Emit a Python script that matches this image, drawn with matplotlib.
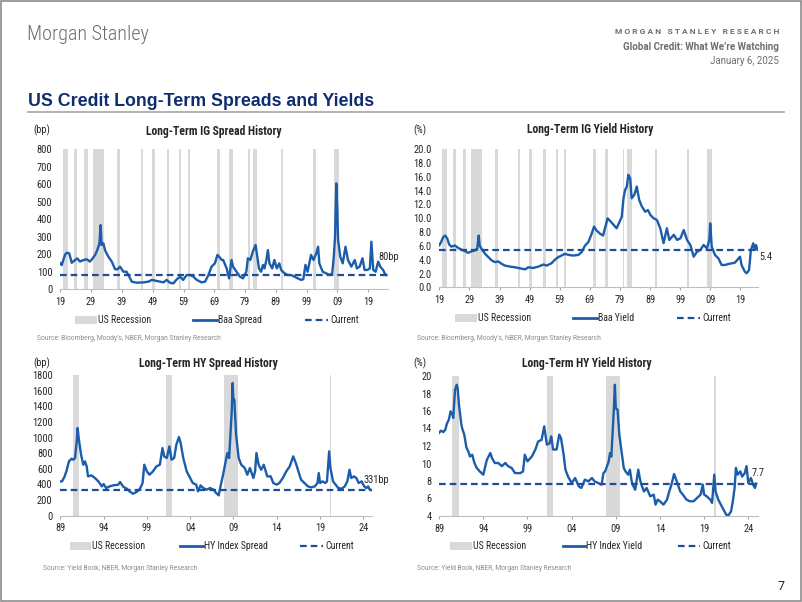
import matplotlib
matplotlib.use('Agg')
import matplotlib.pyplot as plt
from matplotlib.lines import Line2D
from matplotlib.patches import Rectangle

# ---------------- data ----------------
ig_spread_years = [1919.0, 1919.45, 1920.5, 1921.1, 1921.9, 1922.7, 1923.8, 1924.5, 1925.4, 1926.5,
                   1927.6, 1928.6, 1929.5, 1930.3, 1931.0, 1931.7, 1932.1, 1932.4, 1933.0, 1933.5,
                   1934.6, 1935.7, 1936.8, 1937.6, 1938.4, 1939.5, 1940.5, 1941.1, 1942.2, 1943.8,
                   1946.0, 1947.6, 1948.7, 1950.3, 1952.5, 1953.5, 1954.6, 1955.7, 1956.8, 1957.9,
                   1958.9, 1960.0, 1961.1, 1962.2, 1963.3, 1964.9, 1966.0, 1967.1, 1968.1, 1969.2,
                   1970.0, 1970.6, 1971.4, 1971.9, 1973.0, 1973.8, 1974.6, 1975.1, 1976.2, 1977.3,
                   1978.3, 1979.4, 1979.9, 1980.7, 1981.5, 1982.4, 1982.8, 1983.5, 1984.2, 1984.8,
                   1985.3, 1985.9, 1986.4, 1986.9, 1987.8, 1988.5, 1989.3, 1990.1, 1990.7, 1991.8,
                   1992.8, 1993.9, 1995.0, 1996.1, 1997.2, 1997.9, 1998.6, 1999.3, 2000.4, 2001.2,
                   2002.1, 2002.7, 2003.1, 2004.2, 2005.3, 2006.4, 2007.3, 2007.8, 2008.2, 2008.6,
                   2008.9, 2009.2, 2009.9, 2010.7, 2011.6, 2012.4, 2013.5, 2014.6, 2015.3, 2016.2,
                   2017.1, 2017.8, 2018.7, 2019.5, 2020.0, 2020.6, 2021.4, 2022.2, 2022.9, 2023.8,
                   2024.6, 2024.9]
ig_spread_bp = [147, 137, 195, 208, 204, 150, 166, 175, 157, 166,
                170, 157, 175, 195, 223, 261, 366, 252, 261, 223,
                185, 157, 113, 113, 128, 99, 99, 80, 42, 36,
                38, 42, 52, 46, 38, 52, 36, 32, 55, 71,
                52, 80, 80, 71, 52, 38, 42, 80, 128, 147,
                195, 185, 166, 166, 118, 61, 166, 128, 99, 71,
                61, 99, 176, 166, 214, 252, 204, 118, 99, 138,
                118, 166, 223, 147, 118, 166, 118, 147, 109, 90,
                80, 80, 71, 61, 52, 56, 138, 99, 195, 166,
                204, 242, 147, 99, 90, 80, 90, 185, 300, 605,
                472, 280, 185, 147, 242, 166, 128, 166, 118, 128,
                176, 109, 109, 118, 271, 109, 99, 157, 128, 109,
                80, 80]

ig_yield_years = [1919.0, 1919.6, 1920.3, 1921.0, 1921.7, 1922.3, 1923.0, 1924.2, 1925.3, 1926.4,
                  1927.5, 1928.6, 1929.7, 1930.8, 1931.6, 1932.1, 1932.4, 1933.0, 1934.2, 1935.3,
                  1936.4, 1937.5, 1938.6, 1939.7, 1940.8, 1942.5, 1944.1, 1945.8, 1947.5, 1948.6,
                  1950.2, 1951.9, 1953.6, 1954.7, 1956.3, 1957.4, 1958.5, 1959.6, 1960.7, 1961.9,
                  1963.5, 1965.2, 1966.3, 1967.4, 1968.5, 1969.6, 1970.4, 1971.2, 1972.3, 1973.4,
                  1974.9, 1976.2, 1977.9, 1979.6, 1980.2, 1980.7, 1981.3, 1981.8, 1982.4, 1982.9,
                  1983.8, 1984.6, 1985.4, 1986.3, 1987.4, 1988.3, 1989.1, 1990.2, 1991.3, 1992.4,
                  1993.5, 1994.6, 1995.4, 1996.9, 1998.0, 1999.1, 2000.2, 2001.3, 2002.4, 2003.5,
                  2004.6, 2005.7, 2006.8, 2007.9, 2008.7, 2009.0, 2009.5, 2010.6, 2011.7, 2012.8,
                  2013.9, 2015.0, 2016.1, 2017.2, 2018.9, 2019.4, 2020.5, 2021.1, 2021.9, 2022.5,
                  2023.3, 2023.8, 2024.2, 2024.7, 2024.95]
ig_yield_pct = [6.1, 6.55, 7.3, 7.5, 7.0, 6.2, 5.9, 6.05, 5.7, 5.45,
                5.25, 5.0, 5.2, 5.35, 5.6, 7.5, 6.05, 5.6, 4.85, 4.37,
                3.9, 3.65, 3.75, 3.4, 3.15, 3.0, 2.9, 2.75, 2.6, 2.9,
                2.8, 3.0, 3.3, 3.15, 3.5, 4.0, 4.37, 4.6, 4.85, 4.7,
                4.6, 4.7, 5.1, 6.05, 6.55, 7.75, 8.8, 8.25, 7.8, 7.5,
                10.0, 9.4, 8.55, 10.2, 12.9, 14.1, 14.6, 16.3, 15.8, 12.9,
                13.4, 14.6, 12.65, 11.7, 10.95, 11.2, 10.5, 10.0, 9.75, 8.55,
                6.4, 8.55, 6.86, 7.6, 6.86, 7.1, 8.3, 6.86, 6.13, 4.44,
                5.16, 5.4, 6.13, 5.65, 6.86, 9.27, 5.88, 4.68, 4.2, 3.23,
                3.23, 3.38, 3.47, 3.57, 4.44, 3.23, 2.26, 2.03, 2.51, 5.4,
                6.38, 5.4, 6.13, 5.4, 5.4]

hy_spread_years = [1989.0, 1989.2, 1989.5, 1989.7, 1989.8, 1990.0, 1990.3, 1990.5, 1990.7, 1990.9,
                   1991.0, 1991.15, 1991.4, 1991.65, 1991.85, 1992.05, 1992.2, 1992.6, 1993.0, 1993.4,
                   1993.8, 1994.0, 1994.3, 1994.7, 1995.1, 1995.7, 1995.9, 1996.3, 1996.7, 1997.0,
                   1997.4, 1997.8, 1998.2, 1998.5, 1998.7, 1999.0, 1999.3, 1999.7, 2000.1, 2000.5,
                   2000.8, 2001.0, 2001.3, 2001.6, 2001.85, 2002.15, 2002.4, 2002.7, 2002.9, 2003.2,
                   2003.6, 2004.0, 2004.3, 2004.7, 2004.9, 2005.2, 2005.5, 2005.9, 2006.3, 2006.7,
                   2007.0, 2007.3, 2007.5, 2007.8, 2008.1, 2008.3, 2008.5, 2008.65, 2008.8, 2008.9,
                   2009.0, 2009.1, 2009.3, 2009.6, 2009.9, 2010.3, 2010.6, 2010.9, 2011.3, 2011.5,
                   2011.65, 2011.9, 2012.2, 2012.5, 2012.9, 2013.3, 2013.6, 2014.0, 2014.3, 2014.7,
                   2015.1, 2015.5, 2015.9, 2016.2, 2016.5, 2016.8, 2017.2, 2017.6, 2018.0, 2018.4,
                   2018.7, 2018.85, 2019.0, 2019.3, 2019.6, 2019.8, 2020.05, 2020.2, 2020.5, 2020.8,
                   2021.1, 2021.5, 2021.85, 2022.15, 2022.4, 2022.6, 2022.9, 2023.2, 2023.45, 2023.8,
                   2024.1, 2024.35, 2024.55, 2024.7, 2024.85]
hy_spread_bp = [439, 439, 503, 567, 610, 695, 729, 716, 738, 951,
                1121, 972, 780, 652, 695, 631, 503, 516, 482, 439,
                375, 405, 354, 375, 388, 397, 431, 367, 345, 311,
                281, 303, 345, 418, 652, 567, 524, 567, 631, 652,
                866, 759, 738, 887, 716, 738, 908, 1006, 930, 738,
                567, 482, 418, 397, 311, 388, 354, 333, 354, 333,
                290, 260, 375, 524, 695, 802, 738, 1036, 1335, 1697,
                1463, 1484, 1036, 738, 652, 610, 524, 610, 482, 567,
                802, 652, 588, 652, 503, 503, 418, 397, 418, 482,
                567, 631, 759, 674, 567, 461, 418, 375, 362, 375,
                418, 546, 418, 439, 418, 439, 823, 610, 439, 397,
                354, 345, 375, 439, 588, 482, 503, 482, 418, 439,
                375, 354, 375, 340, 331]

hy_yield_years = [1989.0, 1989.2, 1989.5, 1989.7, 1989.9, 1990.1, 1990.3, 1990.5, 1990.6, 1990.8,
                  1991.0, 1991.1, 1991.25, 1991.5, 1991.6, 1991.85, 1992.1, 1992.3, 1992.5, 1992.75,
                  1993.0, 1993.25, 1993.6, 1994.0, 1994.4, 1994.8, 1995.0, 1995.3, 1995.7, 1996.1,
                  1996.5, 1996.8, 1997.2, 1997.6, 1998.2, 1998.5, 1998.7, 1999.0, 1999.5, 1999.9,
                  2000.2, 2000.6, 2000.9, 2001.2, 2001.5, 2001.7, 2001.9, 2002.3, 2002.6, 2002.8,
                  2003.1, 2003.3, 2003.6, 2004.0, 2004.4, 2004.8, 2005.1, 2005.5, 2005.9, 2006.3,
                  2006.6, 2007.0, 2007.4, 2007.6, 2007.8, 2008.2, 2008.35, 2008.5, 2008.75, 2008.9,
                  2009.0, 2009.2, 2009.4, 2009.7, 2009.9, 2010.1, 2010.4, 2010.6, 2010.8, 2011.0,
                  2011.2, 2011.4, 2011.55, 2011.75, 2011.9, 2012.2, 2012.5, 2012.9, 2013.3, 2013.5,
                  2013.75, 2014.0, 2014.4, 2014.8, 2015.0, 2015.3, 2015.6, 2015.9, 2016.3, 2016.6,
                  2017.0, 2017.4, 2017.8, 2018.2, 2018.6, 2018.85, 2019.0, 2019.3, 2019.7, 2019.9,
                  2020.15, 2020.3, 2020.6, 2020.9, 2021.2, 2021.5, 2021.75, 2022.05, 2022.25, 2022.45,
                  2022.6, 2022.8, 2023.1, 2023.3, 2023.6, 2023.8, 2024.0, 2024.3, 2024.55, 2024.75,
                  2024.9]
hy_yield_pct = [13.5, 13.75, 13.6, 13.87, 14.6, 15.0, 15.96, 15.6, 15.2, 18.4,
                19.0, 18.6, 16.7, 14.6, 14.05, 13.3, 11.8, 11.4, 10.8, 11.0,
                10.06, 9.5, 9.1, 8.72, 10.4, 11.2, 10.6, 10.06, 10.06, 9.7,
                10.06, 9.7, 9.5, 8.9, 8.9, 9.1, 11.0, 10.25, 10.8, 11.6,
                12.5, 12.7, 14.25, 12.15, 12.3, 13.1, 11.6, 11.6, 13.3, 12.9,
                11.0, 9.3, 8.5, 7.77, 8.34, 7.4, 7.2, 8.15, 7.96, 8.34,
                7.96, 7.77, 7.58, 8.9, 9.1, 10.25, 11.2, 10.8, 15.6, 19.0,
                16.3, 16.15, 13.3, 11.0, 9.5, 9.1, 8.72, 9.3, 7.96, 7.4,
                7.0, 8.34, 9.3, 8.15, 7.58, 6.8, 7.2, 6.25, 6.44, 5.3,
                5.87, 5.68, 5.3, 5.87, 6.63, 7.58, 8.8, 7.96, 6.8, 6.44,
                5.87, 5.68, 5.68, 6.06, 6.44, 7.58, 6.44, 6.25, 5.87, 5.5,
                8.72, 6.8, 5.87, 5.3, 4.72, 4.15, 4.08, 4.53, 5.68, 7.2,
                9.5, 8.72, 9.1, 8.5, 8.9, 9.7, 7.77, 8.34, 7.58, 7.2,
                7.7]

ig_spread_now = 80
ig_yield_now = 5.4
hy_spread_now = 331
hy_yield_now = 7.7

# NBER recessions (decimal years)
rec_start = [1920.0, 1923.4, 1926.8, 1929.6, 1937.4, 1945.1, 1948.9, 1953.5, 1957.6, 1960.3,
             1969.9, 1973.9, 1980.0, 1981.5, 1990.5, 2001.2, 2007.9, 2020.1]
rec_end = [1921.5, 1924.5, 1927.9, 1933.2, 1938.5, 1945.8, 1949.8, 1954.4, 1958.3, 1961.1,
           1970.9, 1975.2, 1980.5, 1982.9, 1991.2, 2001.9, 2009.5, 2020.3]

ig_xticks = [1919, 1929, 1939, 1949, 1959, 1969, 1979, 1989, 1999, 2009, 2019]
ig_xlabels = ['19', '29', '39', '49', '59', '69', '79', '89', '99', '09', '19']
hy_xticks = [1989, 1994, 1999, 2004, 2009, 2014, 2019, 2024]
hy_xlabels = ['89', '94', '99', '04', '09', '14', '19', '24']

# ---------------- styling ----------------
W, H = 802, 602
BLUE = '#1B5DAA'
NAVY = '#1F4E99'
BAND = '#D9D9D9'
TXT = '#262626'
GREY = '#8C8C8C'
COND = ['Roboto Condensed', 'DejaVu Sans']
PLAIN = ['Roboto', 'DejaVu Sans']
LEG_FS = 7.1

plt.rcParams['font.family'] = COND

fig = plt.figure(figsize=(W / 100, H / 100), dpi=100)


def fx(x):
    return x / W


def fy(y):
    return 1 - y / H


def txt(x, y, s, **kw):
    kw.setdefault('va', 'center')
    fig.text(fx(x), fy(y), s, **kw)


def panel(box, years, values, now, xlim, ylim, yticks, yfmt, xticks, xlabels):
    x0, y0, x1, y1 = box
    ax = fig.add_axes([fx(x0), fy(y1), (x1 - x0) / W, (y1 - y0) / H])
    ax.patch.set_alpha(0)
    for a, b in zip(rec_start, rec_end):
        if b > xlim[0] and a < xlim[1]:
            ax.axvspan(a, b, color=BAND, lw=0, zorder=0)
    ax.plot(years, values, color=BLUE, lw=1.7, zorder=3, solid_joinstyle='round')
    ax.axhline(now, color=NAVY, lw=1.6, dashes=(3, 1.8), zorder=4)
    ax.set_xlim(xlim)
    ax.set_ylim(ylim)
    ax.set_yticks(yticks)
    ax.set_yticklabels([yfmt.format(v) for v in yticks])
    ax.set_xticks(xticks)
    ax.set_xticklabels(xlabels)
    for s in ['top', 'right', 'left']:
        ax.spines[s].set_visible(False)
    ax.spines['bottom'].set_color('#BFBFBF')
    ax.spines['bottom'].set_linewidth(0.8)
    ax.tick_params(axis='y', length=0, pad=5.5, labelsize=7.5, labelcolor=TXT)
    ax.tick_params(axis='x', length=2.5, color='#A6A6A6', pad=3, labelsize=7.5, labelcolor=TXT)
    return ax


def legend(y, xs, label_line):
    (p0, p1), (l0, l1), (d0, d1) = xs
    fig.add_artist(Rectangle((fx(p0), fy(y + 4)), (p1 - p0) / W, 8 / H,
                             transform=fig.transFigure, color=BAND, lw=0))
    txt(p1 + 1.5, y, 'US Recession', fontsize=LEG_FS, color=TXT)
    fig.add_artist(Line2D([fx(l0), fx(l1)], [fy(y), fy(y)], transform=fig.transFigure,
                          color=BLUE, lw=2))
    txt(l1 + 1, y, label_line, fontsize=LEG_FS, color=TXT)
    fig.add_artist(Line2D([fx(d0), fx(d1)], [fy(y), fy(y)], transform=fig.transFigure,
                          color=NAVY, lw=1.6, dashes=(3, 1.8)))
    txt(d1 + 2, y, 'Current', fontsize=LEG_FS, color=TXT)


def source(x, y, s):
    txt(x, y, s, fontsize=4.9, color=GREY, family=PLAIN)


# ---------------- page furniture ----------------
fig.add_artist(Rectangle((0.001, 0.001), 0.998, 0.997, transform=fig.transFigure,
                         fill=False, ec='#8C8C8C', lw=1.2))
txt(27, 34, 'Morgan Stanley', fontsize=14.5, color='#6E6E6E', weight='light')
txt(779, 32, 'M O R G A N   S T A N L E Y   R E S E A R C H', fontsize=6, color='#6E6E6E',
    ha='right', weight='bold', family=PLAIN)
txt(779, 47, 'Global Credit: What We\u2019re Watching', fontsize=7, color='#6E6E6E',
    ha='right', weight='bold', family=PLAIN)
txt(779, 61, 'January 6, 2025', fontsize=7, color='#6E6E6E', ha='right', family=PLAIN)
txt(28, 101, 'US Credit Long-Term Spreads and Yields', fontsize=12.8, color='#0F2D6E',
    weight='bold', family=['Liberation Sans', 'DejaVu Sans'])
fig.add_artist(Line2D([fx(28), fx(784)], [fy(112), fy(112)], transform=fig.transFigure,
                      color='#A6A6A6', lw=1.2))
txt(778, 586, '7', fontsize=9, color=TXT, family=PLAIN)

# ---------------- panel 1: IG spread ----------------
panel((60, 149.3, 387.7, 289), ig_spread_years, ig_spread_bp, ig_spread_now,
      (1918.9, 2025.3), (0, 800), list(range(0, 801, 100)), '{:d}', ig_xticks, ig_xlabels)
txt(214, 131, 'Long-Term IG Spread History', fontsize=8.4, weight='bold', color=TXT, ha='center')
txt(33, 130, '(bp)', fontsize=7.5, color=TXT)
txt(378, 257, f'{ig_spread_now}bp', fontsize=7.5, color=TXT)
legend(320, ((75, 97), (193, 217), (305, 328)), 'Baa Spread')
source(37, 339, 'Source: Bloomberg, Moody\u2019s, NBER, Morgan Stanley Research')

# ---------------- panel 2: IG yield ----------------
panel((439.3, 149.3, 758.4, 287.3), ig_yield_years, ig_yield_pct, ig_yield_now,
      (1919, 2025.0), (0, 20), [0, 2, 4, 6, 8, 10, 12, 14, 16, 18, 20], '{:.1f}', ig_xticks, ig_xlabels)
txt(590, 130, 'Long-Term IG Yield History', fontsize=8.4, weight='bold', color=TXT, ha='center')
txt(413, 130, '(%)', fontsize=7.5, color=TXT)
txt(759, 257, f'{ig_yield_now}', fontsize=7.5, color=TXT)
legend(318, ((455, 477), (573, 597), (677, 700)), 'Baa Yield')
source(417, 338, 'Source: Bloomberg, Moody\u2019s, NBER, Morgan Stanley Research')

# ---------------- panel 3: HY spread ----------------
panel((60.3, 375, 372, 515.7), hy_spread_years, hy_spread_bp, hy_spread_now,
      (1989, 2025.0), (0, 1800), list(range(0, 1801, 200)), '{:d}', hy_xticks, hy_xlabels)
txt(208, 364, 'Long-Term HY Spread History', fontsize=8.4, weight='bold', color=TXT, ha='center')
txt(33, 363, '(bp)', fontsize=7.5, color=TXT)
txt(363, 480, f'{hy_spread_now}bp', fontsize=7.5, color=TXT)
legend(546, ((70, 91), (180, 203), (300, 323)), 'HY Index Spread')
source(43, 569, 'Source: Yield Book, NBER, Morgan Stanley Research')

# ---------------- panel 4: HY yield ----------------
panel((439.1, 376, 758, 516), hy_yield_years, hy_yield_pct, hy_yield_now,
      (1989, 2025.1), (4, 20), [4, 6, 8, 10, 12, 14, 16, 18, 20], '{:d}', hy_xticks, hy_xlabels)
txt(587, 364, 'Long-Term HY Yield History', fontsize=8.4, weight='bold', color=TXT, ha='center')
txt(413, 363, '(%)', fontsize=7.5, color=TXT)
txt(752, 473, f'{hy_yield_now}', fontsize=7.5, color=TXT)
legend(546, ((450, 472), (563, 585), (678, 700)), 'HY Index Yield')
source(417, 569, 'Source: Yield Book, NBER, Morgan Stanley Research')

fig.savefig('out.png', dpi=100)
